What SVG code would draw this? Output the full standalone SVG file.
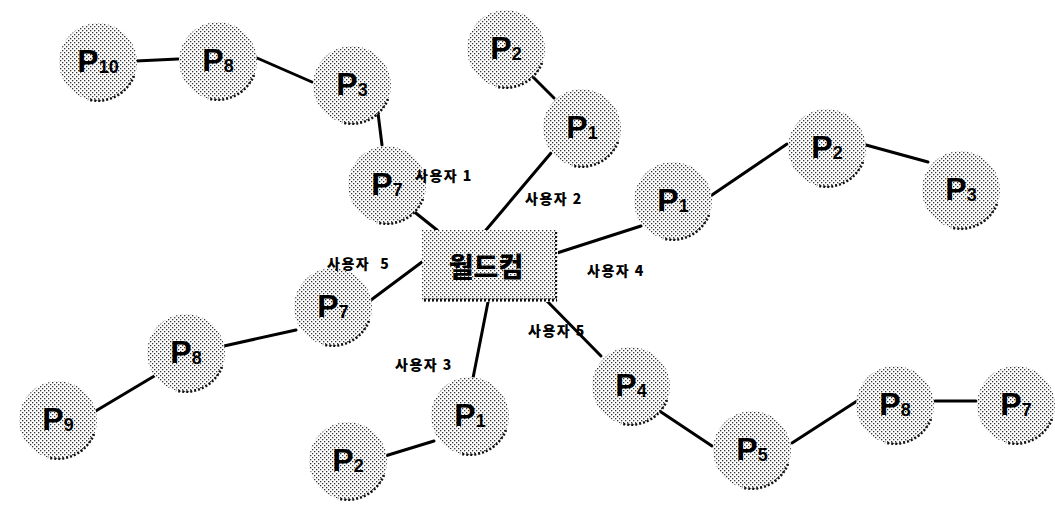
<svg xmlns="http://www.w3.org/2000/svg" xmlns:xlink="http://www.w3.org/1999/xlink" width="1055" height="505" viewBox="0 0 1055 505">
<style>
.edge{stroke:#000;stroke-width:3;fill:none;stroke-linecap:round}
.pt{font-family:"Liberation Sans",Arial,sans-serif;font-weight:bold;font-size:32px;fill:#000}
.sub{font-size:18px}
.lbl{font-family:"Noto Sans CJK KR","Liberation Sans",sans-serif;font-weight:900;font-size:14px;letter-spacing:1.5px;fill:#000}
.hub{font-family:"Noto Sans CJK KR","Liberation Sans",sans-serif;font-weight:900;font-size:27px;fill:#000}
</style>
<defs>
<pattern id="ht" width="4" height="4" patternUnits="userSpaceOnUse">
<rect width="4" height="4" fill="#fff"/>
<rect x="0" y="0" width="1.3" height="1.3" fill="#333"/>
<rect x="2" y="2" width="1.3" height="1.3" fill="#333"/>
</pattern>
<g id="ball">
<circle r="39" fill="url(#ht)"/>
<path d="M 36 14 A 39 39 0 0 1 -10 37.5" fill="none" stroke="#111" stroke-width="2.5" stroke-dasharray="2 2"/>
</g>
</defs>
<rect width="1055" height="505" fill="#fff"/>
<g id="connectors">
<line class="edge" x1="136" y1="61" x2="178" y2="59"/>
<line class="edge" x1="257" y1="58" x2="312" y2="82"/>
<line class="edge" x1="378" y1="113" x2="382" y2="145"/>
<line class="edge" x1="412" y1="210" x2="437" y2="230"/>
<line class="edge" x1="532" y1="76" x2="554" y2="98"/>
<line class="edge" x1="551" y1="153" x2="486" y2="230"/>
<line class="edge" x1="557" y1="253" x2="641" y2="226"/>
<line class="edge" x1="709" y1="197" x2="787" y2="144"/>
<line class="edge" x1="866" y1="145" x2="928" y2="162"/>
<line class="edge" x1="422" y1="262" x2="371" y2="300"/>
<line class="edge" x1="296" y1="330" x2="224" y2="346"/>
<line class="edge" x1="156" y1="375" x2="94" y2="412"/>
<line class="edge" x1="488" y1="302" x2="473" y2="378"/>
<line class="edge" x1="434" y1="441" x2="385" y2="456"/>
<line class="edge" x1="546" y1="300" x2="601" y2="356"/>
<line class="edge" x1="655" y1="408" x2="712" y2="446"/>
<line class="edge" x1="792" y1="443" x2="857" y2="401"/>
<line class="edge" x1="935" y1="401" x2="976" y2="401"/>
</g>
<g id="hub">
<rect x="422" y="230" width="136" height="72" fill="url(#ht)"/>
<line x1="424" y1="300" x2="557" y2="300" stroke="#111" stroke-width="3" stroke-dasharray="2 2"/>
<line x1="556" y1="232" x2="556" y2="300" stroke="#111" stroke-width="2" stroke-dasharray="2 2"/>
<text class="hub" x="486" y="277" text-anchor="middle">월드컴</text>
</g>
<g id="n-p10" transform="translate(98,62)"><use xlink:href="#ball"/><text class="pt" y="10" text-anchor="middle">P<tspan class="sub" dy="1">10</tspan></text></g>
<g id="n-p8a" transform="translate(218,61)"><use xlink:href="#ball"/><text class="pt" y="10" text-anchor="middle">P<tspan class="sub" dy="1">8</tspan></text></g>
<g id="n-p3a" transform="translate(352,85)"><use xlink:href="#ball"/><text class="pt" y="10" text-anchor="middle">P<tspan class="sub" dy="1">3</tspan></text></g>
<g id="n-p7a" transform="translate(387,185)"><use xlink:href="#ball"/><text class="pt" y="10" text-anchor="middle">P<tspan class="sub" dy="1">7</tspan></text></g>
<g id="n-p2a" transform="translate(506,49)"><use xlink:href="#ball"/><text class="pt" y="10" text-anchor="middle">P<tspan class="sub" dy="1">2</tspan></text></g>
<g id="n-p1a" transform="translate(582,128)"><use xlink:href="#ball"/><text class="pt" y="10" text-anchor="middle">P<tspan class="sub" dy="1">1</tspan></text></g>
<g id="n-p1b" transform="translate(673,201)"><use xlink:href="#ball"/><text class="pt" y="10" text-anchor="middle">P<tspan class="sub" dy="1">1</tspan></text></g>
<g id="n-p2b" transform="translate(827,148)"><use xlink:href="#ball"/><text class="pt" y="10" text-anchor="middle">P<tspan class="sub" dy="1">2</tspan></text></g>
<g id="n-p3b" transform="translate(961,190)"><use xlink:href="#ball"/><text class="pt" y="10" text-anchor="middle">P<tspan class="sub" dy="1">3</tspan></text></g>
<g id="n-p7b" transform="translate(333,307)"><use xlink:href="#ball"/><text class="pt" y="10" text-anchor="middle">P<tspan class="sub" dy="1">7</tspan></text></g>
<g id="n-p8b" transform="translate(186,353)"><use xlink:href="#ball"/><text class="pt" y="10" text-anchor="middle">P<tspan class="sub" dy="1">8</tspan></text></g>
<g id="n-p9" transform="translate(58,420)"><use xlink:href="#ball"/><text class="pt" y="10" text-anchor="middle">P<tspan class="sub" dy="1">9</tspan></text></g>
<g id="n-p1c" transform="translate(470,416)"><use xlink:href="#ball"/><text class="pt" y="10" text-anchor="middle">P<tspan class="sub" dy="1">1</tspan></text></g>
<g id="n-p2c" transform="translate(348,461)"><use xlink:href="#ball"/><text class="pt" y="10" text-anchor="middle">P<tspan class="sub" dy="1">2</tspan></text></g>
<g id="n-p4" transform="translate(631,386)"><use xlink:href="#ball"/><text class="pt" y="10" text-anchor="middle">P<tspan class="sub" dy="1">4</tspan></text></g>
<g id="n-p5" transform="translate(752,450)"><use xlink:href="#ball"/><text class="pt" y="10" text-anchor="middle">P<tspan class="sub" dy="1">5</tspan></text></g>
<g id="n-p8c" transform="translate(895,405)"><use xlink:href="#ball"/><text class="pt" y="10" text-anchor="middle">P<tspan class="sub" dy="1">8</tspan></text></g>
<g id="n-p7c" transform="translate(1016,405)"><use xlink:href="#ball"/><text class="pt" y="10" text-anchor="middle">P<tspan class="sub" dy="1">7</tspan></text></g>
<g id="labels">
<text class="lbl" x="415" y="181">사용자 1</text>
<text class="lbl" x="525" y="204">사용자 2</text>
<text class="lbl" x="327" y="269">사용자<tspan dx="10">5</tspan></text>
<text class="lbl" x="587" y="276">사용자 4</text>
<text class="lbl" x="528" y="336">사용자 5</text>
<text class="lbl" x="395" y="370">사용자 3</text>
</g>
</svg>
